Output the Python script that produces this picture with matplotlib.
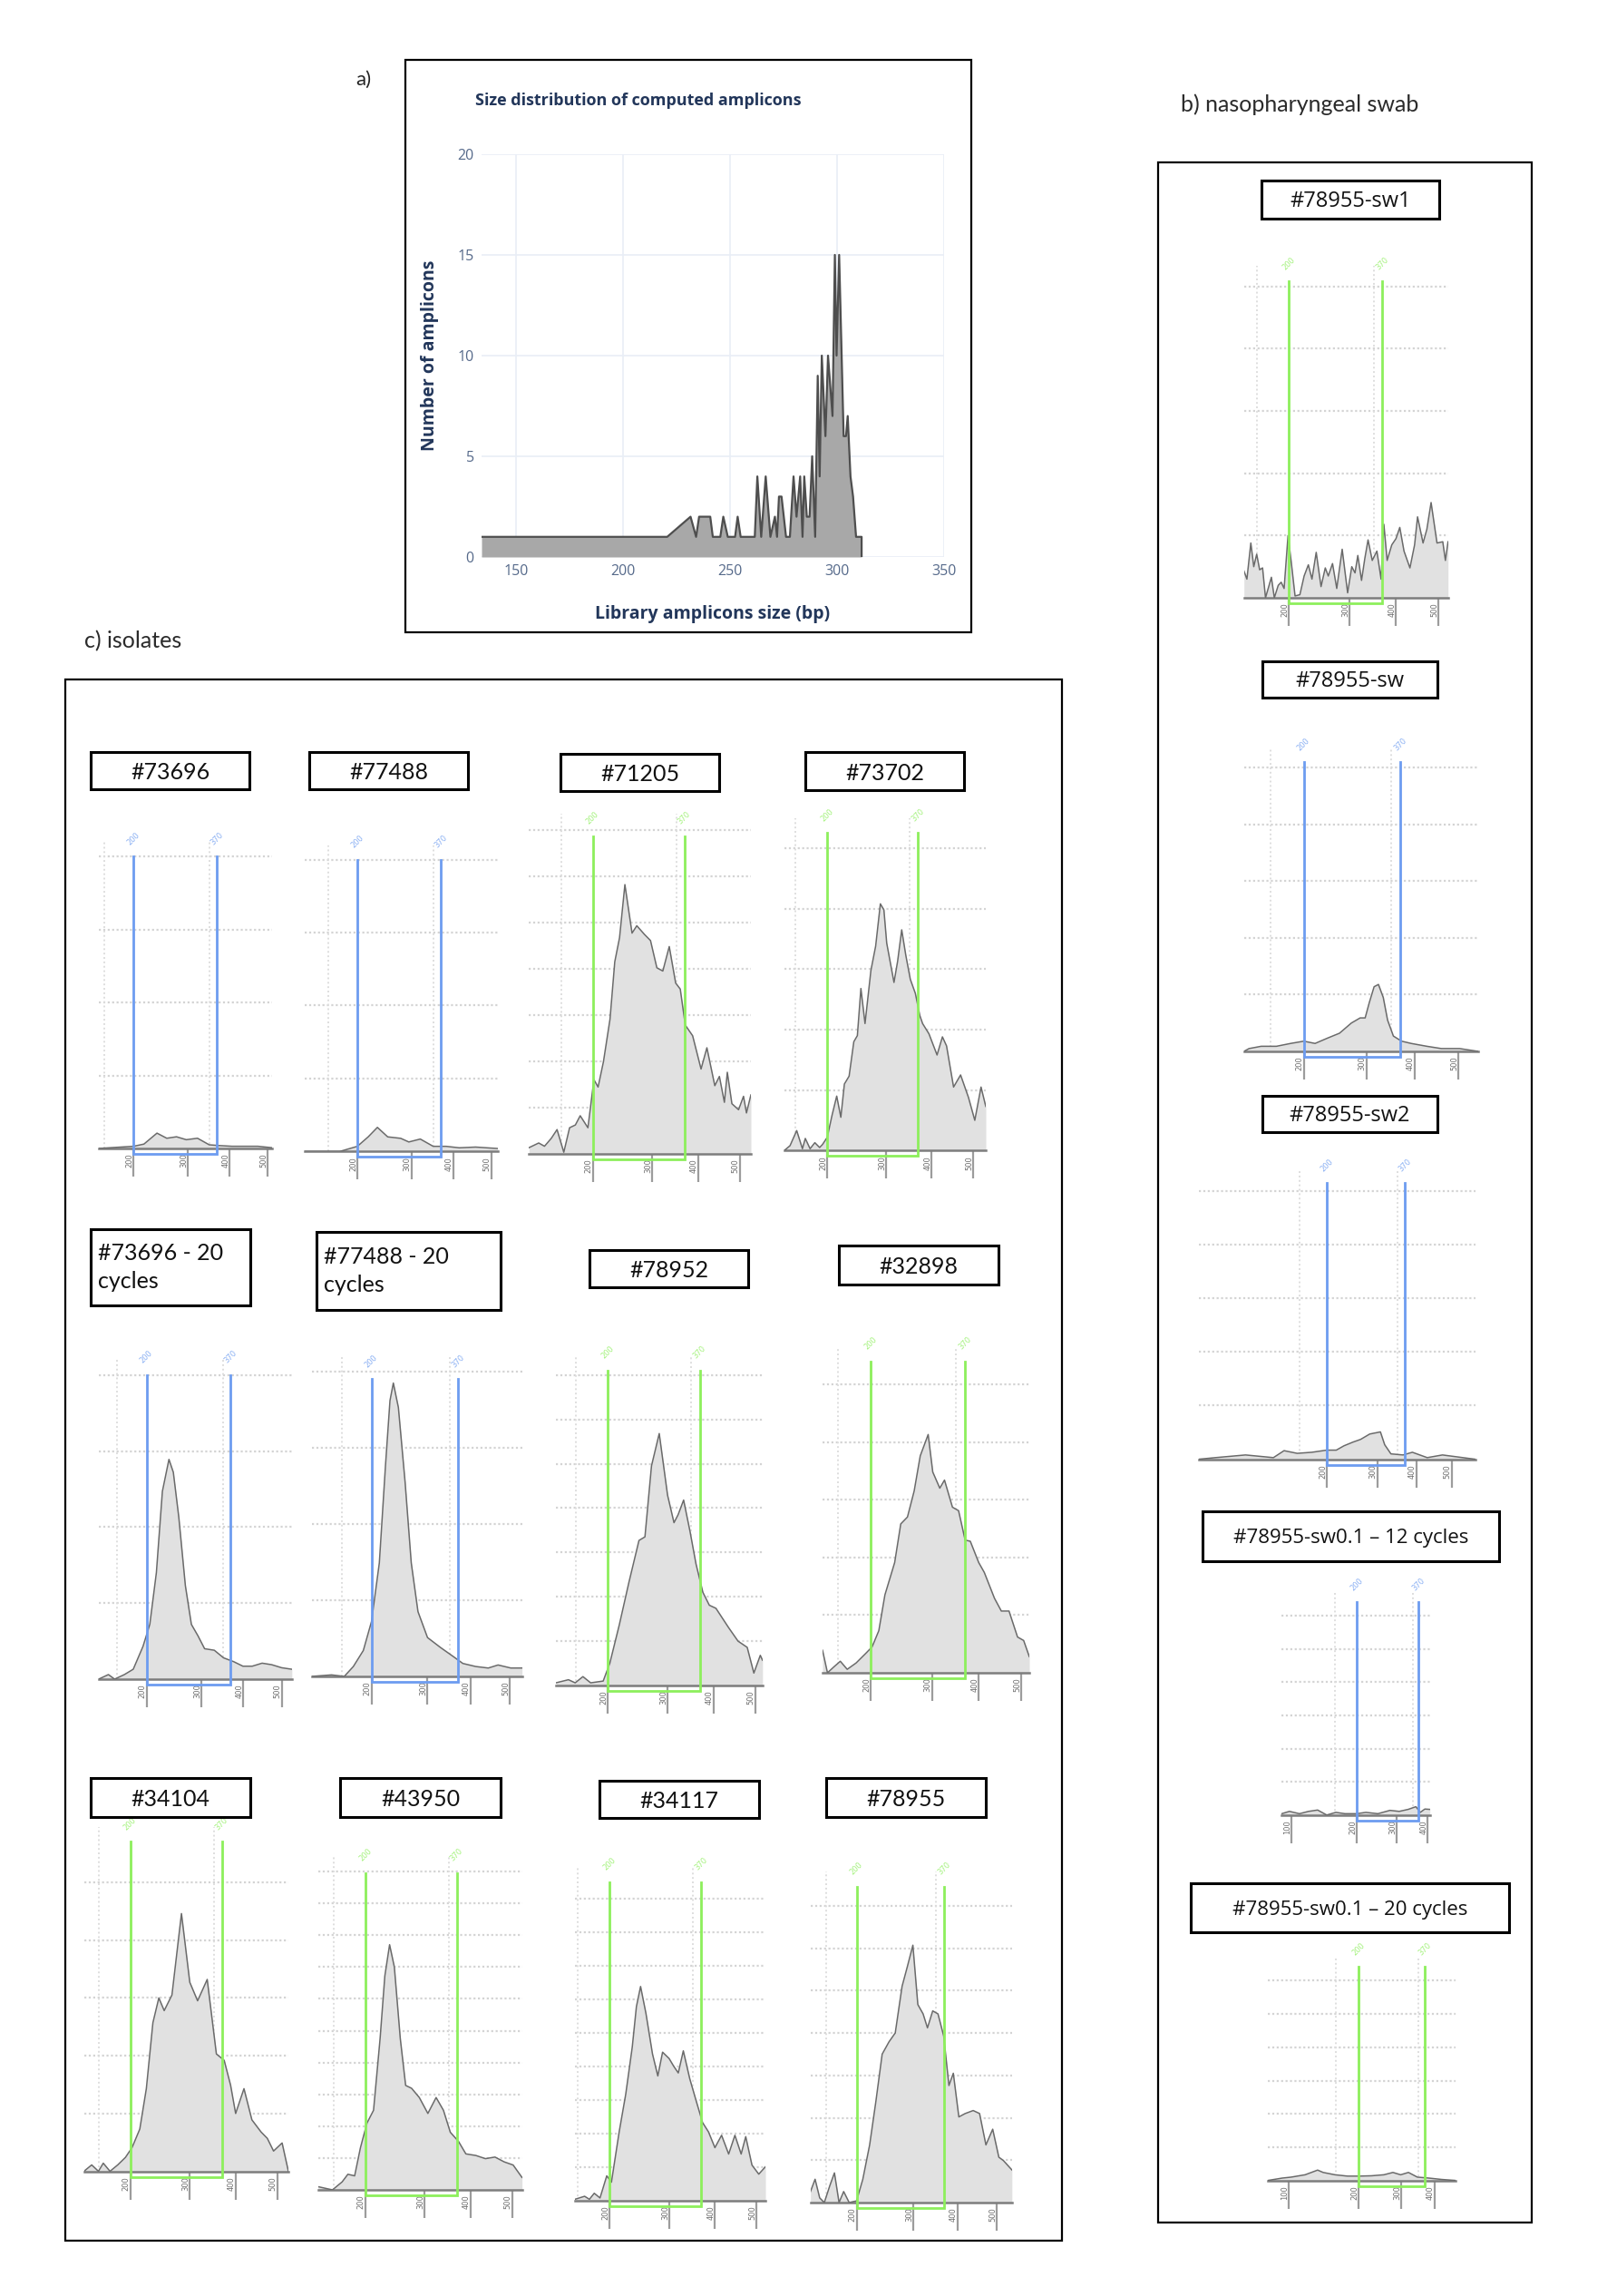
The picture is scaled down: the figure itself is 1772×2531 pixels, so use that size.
import numpy as np
import matplotlib
matplotlib.use('Agg')
import matplotlib.pyplot as plt
from matplotlib.patches import Rectangle

# ---- a) computed amplicon size distribution ----
AMP_BP = [134, 220.7, 231.6, 234.2, 235.6, 240.8, 242, 245.5, 246.9, 249, 252.4, 253.6, 255,
          261.6, 262.8, 264.6, 266.7, 268.9, 271, 272, 272.9, 274.1, 276.2, 278, 279.7, 281.1,
          282.8, 283.9, 284.7, 285.9, 287.2, 288.4, 289.8, 291, 291.9, 292.9, 294.6, 295.8,
          297.9, 299, 299.8, 301, 303.1, 304.2, 305, 306.3, 307.5, 308.9, 311.5, 311.5]
AMP_N = [1, 1, 2, 1, 2, 2, 1, 1, 2, 1, 1, 2, 1, 1, 4, 1, 4, 1, 2, 1, 3, 3, 1, 1, 4, 2, 4, 1, 4, 2,
         2, 5, 1, 9, 4, 10, 6, 10, 7, 15, 10, 15, 6, 6, 7, 4, 3, 1, 1, 0]
AMP_XTICKS = [150, 200, 250, 300, 350]
AMP_YTICKS = [0, 5, 10, 15, 20]

# ladder calibration of the electropherogram x axis (bp -> migration)
LADDER_BP = [25, 50, 100, 200, 300, 400, 500, 600, 700, 1000]
LADDER_POS = [-3.6, -3.0, -1.62, 0.0, 1.0, 1.77, 2.47, 3.09, 3.6, 4.6]
GATE_BP = [200, 370]
VGRID_BP = [167, 352]

# ---- c) isolates ----
P73696_BP = [160, 200, 219, 243, 261, 279, 297, 323, 351, 374, 406, 440, 474, 513]
P73696_Y = [0.0, 0.03, 0.06, 0.21, 0.14, 0.16, 0.12, 0.14, 0.05, 0.04, 0.03, 0.03, 0.03, 0.01]

P77488_BP = [140, 180, 200, 220, 237, 256, 280, 295, 321, 352, 383, 416, 459, 520]
P77488_Y = [0.0, 0.0, 0.07, 0.2, 0.33, 0.2, 0.18, 0.13, 0.17, 0.07, 0.07, 0.05, 0.06, 0.04]

P71205_BP = [134, 144, 150, 157, 163, 170, 176, 182, 187, 195, 202, 209, 218, 229, 237, 245, 254,
             266, 274, 287, 297, 310, 323, 337, 351, 361, 372, 388, 407, 421, 440, 451, 463, 470,
             481, 497, 510, 518, 530]
P71205_Y = [0.13, 0.23, 0.16, 0.33, 0.52, 0.03, 0.56, 0.62, 0.82, 0.56, 1.6, 1.44, 1.99, 2.91, 4.15,
            4.67, 5.82, 4.77, 4.93, 4.74, 4.61, 4.02, 3.95, 4.48, 3.69, 3.56, 2.78, 2.55, 1.83, 2.29,
            1.47, 1.67, 1.11, 1.76, 1.08, 0.95, 1.24, 0.88, 1.27]

P73702_BP = [155, 161, 168, 174, 177, 182, 187, 192, 195, 200, 208, 216, 223, 229, 237, 245, 251,
             257, 264, 274, 282, 290, 296, 301, 317, 325, 334, 343, 353, 364, 374, 380, 394, 413,
             426, 436, 453, 470, 489, 505, 522, 535]
P73702_Y = [0.0, 0.08, 0.33, 0.03, 0.2, 0.03, 0.13, 0.05, 0.1, 0.22, 0.58, 0.9, 0.55, 1.1, 1.23, 1.8,
            1.9, 2.68, 2.1, 2.98, 3.38, 4.08, 3.98, 3.43, 2.78, 3.13, 3.65, 3.23, 2.83, 2.6, 2.23,
            2.1, 1.93, 1.58, 1.88, 1.73, 1.05, 1.25, 0.88, 0.5, 1.05, 0.73]

P73696C_BP = [146, 157, 164, 175, 185, 196, 206, 218, 229, 241, 249, 259, 271, 282, 294, 308, 331,
              353, 377, 399, 423, 449, 474, 500, 530]
P73696C_Y = [0.0, 0.06, 0.0, 0.06, 0.13, 0.43, 0.72, 1.4, 2.47, 2.89, 2.72, 2.13, 1.23, 0.72, 0.57,
             0.4, 0.38, 0.28, 0.23, 0.17, 0.17, 0.21, 0.19, 0.15, 0.13]

P77488C_BP = [134, 156, 170, 180, 191, 200, 214, 225, 233, 239, 248, 260, 271, 283, 300, 330, 360,
              382, 413, 445, 470, 503, 535]
P77488C_Y = [0.0, 0.02, 0.0, 0.13, 0.34, 0.72, 1.49, 2.77, 3.62, 3.85, 3.53, 2.55, 1.49, 0.85, 0.51,
             0.38, 0.26, 0.17, 0.13, 0.11, 0.15, 0.11, 0.11]

P78952_BP = [146, 159, 166, 174, 182, 195, 203, 219, 235, 252, 262, 273, 286, 300, 314, 323, 335,
             349, 362, 377, 391, 406, 436, 459, 481, 497, 514, 520]
P78952_Y = [0.06, 0.13, 0.06, 0.2, 0.06, 0.1, 0.5, 1.37, 2.32, 3.27, 3.35, 4.95, 5.68, 4.29, 3.67,
            3.85, 4.18, 3.47, 2.74, 2.1, 1.81, 1.74, 1.31, 1.0, 0.86, 0.28, 0.68, 0.57]

P32898_BP = [151, 156, 163, 169, 176, 185, 195, 202, 213, 223, 239, 249, 260, 271, 281, 294, 302,
             317, 327, 344, 357, 371, 382, 400, 413, 437, 453, 471, 491, 506, 521]
P32898_Y = [0.39, 0.0, 0.11, 0.2, 0.06, 0.17, 0.34, 0.45, 0.73, 1.35, 1.91, 2.58, 2.7, 3.15, 3.76,
            4.13, 3.48, 3.2, 3.34, 2.87, 2.81, 2.3, 2.28, 1.91, 1.74, 1.29, 1.07, 1.07, 0.62, 0.56,
            0.28]

P34104_BP = [152, 160, 167, 172, 179, 187, 195, 203, 216, 227, 238, 248, 257, 270, 286, 300, 317,
             338, 358, 375, 389, 400, 420, 439, 461, 476, 491, 513, 530]
P34104_Y = [0.0, 0.11, 0.0, 0.14, 0.0, 0.11, 0.24, 0.41, 0.73, 1.43, 2.57, 3.0, 2.78, 3.05, 4.46,
            3.27, 2.95, 3.32, 2.03, 1.92, 1.49, 1.0, 1.43, 0.89, 0.68, 0.57, 0.35, 0.49, 0.0]

P43950_BP = [151, 166, 176, 182, 189, 195, 203, 214, 225, 233, 241, 249, 259, 268, 278, 291, 307,
             325, 341, 356, 374, 390, 413, 436, 459, 481, 503, 527]
P43950_Y = [0.1, 0.0, 0.25, 0.49, 0.44, 1.32, 2.1, 2.5, 4.75, 6.72, 7.7, 7.0, 4.75, 3.28, 3.19, 2.9,
            2.4, 2.9, 2.5, 1.81, 1.52, 1.13, 1.08, 0.98, 1.03, 0.88, 0.78, 0.39]

P34117_BP = [164, 174, 179, 184, 190, 197, 203, 216, 227, 238, 245, 252, 261, 272, 281, 289, 300,
             310, 320, 331, 345, 359, 373, 386, 400, 416, 433, 448, 463, 474, 489, 506, 524]
P34117_Y = [0.03, 0.12, 0.03, 0.21, 0.07, 0.73, 0.54, 2.04, 3.16, 4.57, 5.78, 6.38, 5.58, 4.37, 3.71,
            4.42, 4.23, 4.0, 3.8, 4.46, 3.63, 2.97, 2.32, 2.04, 1.57, 1.94, 1.38, 1.94, 1.38, 1.9,
            1.05, 0.78, 1.0]

P78955_BP = [150, 155, 160, 165, 171, 176, 181, 186, 192, 200, 211, 223, 234, 245, 257, 268, 280,
             289, 299, 310, 322, 332, 344, 356, 369, 381, 391, 404, 420, 440, 456, 472, 489, 505,
             518, 542]
P78955_Y = [0.26, 0.55, 0.11, 0.0, 0.4, 0.7, 0.0, 0.26, 0.0, 0.04, 0.55, 1.36, 2.39, 3.5, 3.79, 4.0,
            5.1, 5.55, 6.07, 4.67, 4.45, 4.12, 4.52, 4.45, 3.93, 2.76, 3.05, 2.02, 2.1, 2.17, 2.1,
            1.36, 1.73, 1.07, 0.99, 0.77]

# ---- b) nasopharyngeal swab ----
SW1_BP = [154, 157, 161, 164, 167, 170, 173, 176, 182, 185, 189, 192, 195, 199, 204, 210, 218, 225,
          232, 238, 245, 253, 260, 265, 272, 279, 288, 297, 305, 312, 318, 326, 333, 340, 349, 359,
          368, 374, 381, 391, 400, 409, 419, 433, 444, 451, 464, 473, 483, 497, 512, 519, 526]
SW1_Y = [0.43, 0.3, 0.88, 0.5, 0.7, 0.45, 0.48, 0.0, 0.33, 0.0, 0.2, 0.25, 0.15, 1.0, 0.55, 0.03,
         0.05, 0.35, 0.53, 0.3, 0.73, 0.18, 0.48, 0.35, 0.55, 0.15, 0.78, 0.08, 0.5, 0.4, 0.68, 0.28,
         0.63, 0.93, 0.6, 0.75, 0.3, 1.18, 0.6, 0.85, 0.95, 1.13, 0.75, 0.48, 0.85, 1.3, 0.88, 1.1,
         1.53, 0.88, 0.9, 0.6, 0.9]

SW_BP = [141, 146, 158, 173, 187, 200, 218, 237, 257, 276, 290, 298, 306, 316, 325, 335, 344, 356,
         373, 393, 428, 461, 503, 551]
SW_Y = [0.0, 0.05, 0.09, 0.09, 0.14, 0.18, 0.14, 0.23, 0.32, 0.5, 0.59, 0.59, 0.86, 1.14, 1.18,
        0.95, 0.55, 0.27, 0.18, 0.14, 0.09, 0.05, 0.05, 0.0]

SW2_BP = [67, 79, 101, 135, 148, 164, 182, 200, 219, 234, 252, 267, 285, 308, 319, 335, 366, 390,
          431, 474, 575]
SW2_Y = [0.0, 0.03, 0.08, 0.03, 0.16, 0.11, 0.13, 0.17, 0.17, 0.25, 0.32, 0.37, 0.47, 0.51, 0.27,
         0.1, 0.08, 0.13, 0.03, 0.08, 0.0]

SW12_BP = [91, 98, 112, 126, 140, 154, 168, 182, 200, 223, 253, 283, 308, 337, 362, 376, 391, 408]
SW12_Y = [0.04, 0.11, 0.04, 0.11, 0.15, 0.0, 0.08, 0.04, 0.04, 0.08, 0.04, 0.14, 0.11, 0.17, 0.25,
          0.08, 0.18, 0.17]

SW20_BP = [82, 94, 103, 123, 141, 149, 166, 184, 202, 230, 259, 280, 298, 321, 348, 384, 424, 470]
SW20_Y = [0.01, 0.08, 0.11, 0.18, 0.32, 0.25, 0.18, 0.14, 0.14, 0.15, 0.18, 0.25, 0.18, 0.25, 0.11,
          0.08, 0.04, 0.01]

LABELS_C = ["#73696", "#77488", "#71205", "#73702",
            "#73696 - 20\ncycles", "#77488 - 20\ncycles", "#78952", "#32898",
            "#34104", "#43950", "#34117", "#78955"]
LABELS_B = ["#78955-sw1", "#78955-sw", "#78955-sw2",
            "#78955-sw0.1 \u2013 12 cycles", "#78955-sw0.1 \u2013 20 cycles"]
GATE_KIND = ["blue", "blue", "green", "green", "blue", "blue", "green", "green",
             "green", "green", "green", "green",
             "green", "blue", "blue", "blue", "green"]
CURVES = [(P73696_BP, P73696_Y), (P77488_BP, P77488_Y), (P71205_BP, P71205_Y),
          (P73702_BP, P73702_Y), (P73696C_BP, P73696C_Y), (P77488C_BP, P77488C_Y),
          (P78952_BP, P78952_Y), (P32898_BP, P32898_Y), (P34104_BP, P34104_Y),
          (P43950_BP, P43950_Y), (P34117_BP, P34117_Y), (P78955_BP, P78955_Y),
          (SW1_BP, SW1_Y), (SW_BP, SW_Y), (SW2_BP, SW2_Y), (SW12_BP, SW12_Y), (SW20_BP, SW20_Y)]
TICKS_HI = [200, 300, 400, 500]
TICKS_LO = [100, 200, 300, 400]

# layout in pixels: label box (l,t,r,b), axes (left, right, px of top grid, px of baseline),
# number of grid lines, gate top in grid units
LAYOUT = [
    ((100, 829, 275, 870), (108.6, 300, 944.3, 1266), 4, 4.0),
    ((341, 829, 516, 870), (336, 549, 947.7, 1269.3), 4, 4.0),
    ((618, 831, 793, 872), (583.4, 828, 915, 1271.7), 7, 6.87),
    ((888, 829, 1063, 871), (864.8, 1087, 935, 1268.3), 5, 5.25),
    ((100, 1355, 276, 1439), (108.8, 321.8, 1515.7, 1851), 4, 4.0),
    ((349, 1358, 552, 1444), (343.6, 575.6, 1512, 1848), 4, 3.9),
    ((650, 1378, 825, 1419), (613, 840.8, 1515.7, 1858), 7, 7.1),
    ((925, 1373, 1101, 1416), (907, 1135, 1526, 1844), 5, 5.4),
    ((100, 1960, 276, 2003), (92.6, 318, 2075, 2393.5), 5, 5.7),
    ((375, 1960, 552, 2003), (350.7, 575.6, 2063, 2414), 10, 9.95),
    ((661, 1963, 837, 2004), (634, 844, 2093, 2425.5), 9, 9.5),
    ((911, 1960, 1087, 2003), (893.7, 1115.8, 2100.8, 2428), 7, 7.45),
    ((1391, 199, 1587, 241), (1371.7, 1596.7, 315.7, 659), 5, 5.08),
    ((1392, 729, 1585, 769), (1371.7, 1630, 846.3, 1159), 5, 5.1),
    ((1392, 1208, 1585, 1248), (1321.7, 1626.7, 1313, 1608.6), 5, 5.15),
    ((1326, 1666, 1653, 1721), (1413.3, 1576.7, 1781, 2000.8), 6, 6.4),
    ((1313, 2076, 1664, 2130), (1398, 1605, 2183, 2404), 6, 6.4),
]

W, H = 1772, 2531
fig = plt.figure(figsize=(W / 100, H / 100), dpi=100)
fig.patch.set_facecolor('white')


def px_rect(l, t, r, b):
    return [l / W, 1 - b / H, (r - l) / W, (b - t) / H]


def frame(l, t, r, b, lw):
    fig.add_artist(Rectangle((l / W, 1 - b / H), (r - l) / W, (b - t) / H,
                             transform=fig.transFigure, fill=False, ec='black', lw=lw))


def ftext(x, y, s, **kw):
    fig.text(x / W, 1 - y / H, s, **kw)


def fwd(x):
    return np.interp(x, LADDER_BP, LADDER_POS)


def inv(p):
    return np.interp(p, LADDER_POS, LADDER_BP)


# ---------------- panel a ----------------
navy = '#22365a'
frame(447, 66, 1071, 697, 1.6)
ftext(401, 88, 'a)', fontsize=16, family='Lato', color='#222222', ha='center', va='center')
axa = fig.add_axes(px_rect(531, 170, 1041, 614))
axa.fill_between(AMP_BP, 0, AMP_N, color='#a8a8a8', lw=0, zorder=2)
axa.plot(AMP_BP, AMP_N, color='#4e4e4e', lw=1.6, zorder=3)
axa.set_xlim(134, 350)
axa.set_ylim(0, 20)
axa.set_xticks(AMP_XTICKS)
axa.set_yticks(AMP_YTICKS)
axa.grid(True, color='#e9eef6', lw=1.2)
axa.set_axisbelow(True)
for s in axa.spines.values():
    s.set_visible(False)
axa.tick_params(length=0, labelsize=11.5, labelcolor='#55698a', pad=6)
for t in axa.get_xticklabels() + axa.get_yticklabels():
    t.set_family('Open Sans')
ftext(524, 111, 'Size distribution of computed amplicons', fontsize=13, fontweight='bold',
      family='Open Sans', color=navy, ha='left', va='center')
ftext(474, 392, 'Number of amplicons', fontsize=14, fontweight='bold', family='Open Sans',
      color=navy, rotation=90, ha='center', va='center')
ftext(786, 677, 'Library amplicons size (bp)', fontsize=14, fontweight='bold',
      family='Open Sans', color=navy, ha='center', va='center')

# ---------------- panel frames and headings ----------------
frame(1277, 179, 1689, 2450, 1.6)
frame(72, 749, 1171, 2470, 1.6)
ftext(1302, 115, 'b) nasopharyngeal swab', fontsize=18, family='Lato', color='#2b2b2b',
      ha='left', va='center')
ftext(93, 707, 'c) isolates', fontsize=18, family='Lato', color='#2b2b2b',
      ha='left', va='center')

GATE_COLORS = {'blue': '#6d9cf0', 'green': '#8def5c'}
labels = LABELS_C + LABELS_B

# ---------------- electropherogram panels ----------------
for i, (lab, (bp, yv), kind, lay) in enumerate(zip(labels, CURVES, GATE_KIND, LAYOUT)):
    (bl, bt, br, bb), (al, ar, gpx, base), ngrid, gtop = lay
    ytop = max(ngrid, gtop) + 0.05 * ngrid
    atop = base - (base - gpx) * ytop / ngrid
    ax = fig.add_axes(px_rect(al, atop, ar, base))
    ax.set_xscale('function', functions=(fwd, inv))
    ax.set_xlim(bp[0], bp[-1])
    ax.set_ylim(0, ytop)

    for g in range(1, ngrid + 1):
        ax.axhline(g, color='#d4d4d4', lw=1.6, ls=(0, (1, 1.2)), zorder=1)
    for v in VGRID_BP:
        if bp[0] < v < bp[-1]:
            ax.axvline(v, color='#dedede', lw=1.4, ls=(0, (1, 1.5)), zorder=1)

    ax.fill_between(bp, 0, yv, color='#e1e1e1', lw=0, zorder=2)
    ax.plot(bp, yv, color='#6a6a6a', lw=1.1, zorder=3)

    col = GATE_COLORS[kind]
    ybot = -ytop * 6 / (base - atop)
    ax.plot([GATE_BP[0], GATE_BP[0], GATE_BP[1], GATE_BP[1]], [gtop, ybot, ybot, gtop],
            color=col, lw=2.0, clip_on=False, zorder=4, solid_joinstyle='miter')
    for gv in GATE_BP:
        ax.annotate(str(gv), (gv, gtop), xytext=(0, 8), textcoords='offset points',
                    rotation=45, fontsize=6, color=col, alpha=0.8,
                    ha='center', va='bottom', annotation_clip=False)

    ticks = TICKS_LO if i >= 15 else TICKS_HI
    ax.set_xticks(ticks)
    ax.set_xticklabels([str(t) for t in ticks], rotation=90, ha='right', va='top')
    ax.minorticks_off()
    ax.tick_params(axis='x', direction='out', length=22, width=1.6, color='#9c9c9c',
                   labelsize=6, labelcolor='#6f6f6f', pad=-18)
    ax.tick_params(axis='y', left=False, labelleft=False)
    for s in ['top', 'left', 'right']:
        ax.spines[s].set_visible(False)
    ax.spines['bottom'].set_color('#7d7d7d')
    ax.spines['bottom'].set_linewidth(1.8)
    ax.patch.set_alpha(0)

    # label box
    frame(bl, bt, br, bb, 2.2)
    if i < 12:
        fam, fs = 'Lato', 18
    else:
        fam, fs = 'Open Sans', 16 if i >= 15 else 17
    if '\n' in lab:
        ftext(bl + 8, (bt + bb) / 2, lab, fontsize=fs, family=fam, color='#111111',
              ha='left', va='center', linespacing=1.45)
    else:
        ftext((bl + br) / 2, (bt + bb) / 2 + 2, lab, fontsize=fs, family=fam, color='#111111',
              ha='center', va='center')

fig.savefig('out.png', dpi=100, facecolor='white')
